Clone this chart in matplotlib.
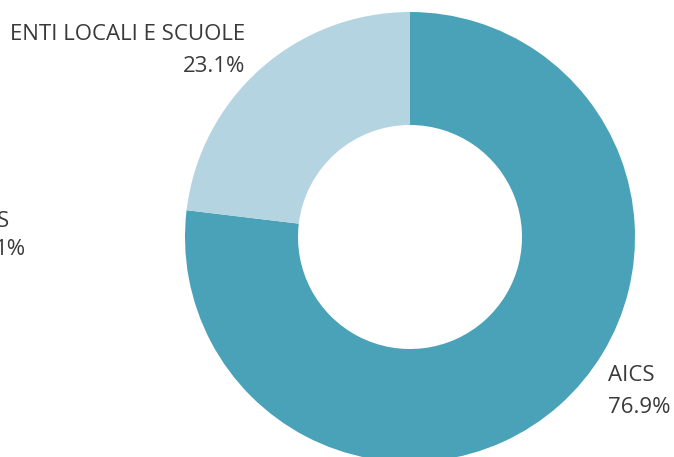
import matplotlib
matplotlib.use("Agg")
import matplotlib.pyplot as plt

categories = ["AICS", "ENTI LOCALI E SCUOLE"]
values = [76.9, 23.1]
colors = ["#4aa2b9", "#b4d4e1"]
pct_labels = ["76.9%", "23.1%"]
# partially visible (clipped) label at the left edge of the reference
clipped_lines = ["S", "1%"]

plt.rcParams['font.family'] = ['Open Sans', 'DejaVu Sans']

W, H = 674, 457
fig = plt.figure(figsize=(W / 100, H / 100), dpi=100)
ax = fig.add_axes([0, 0, 1, 1])
ax.set_xlim(0, W)
ax.set_ylim(0, H)
ax.set_aspect('equal')
ax.axis('off')

cx, cy = 410, H - 237
R = 225
ax.pie(values, colors=colors, startangle=90, counterclock=False,
       center=(cx, cy), radius=R, frame=True,
       wedgeprops=dict(width=R - 112, linewidth=0))
ax.set_xlim(0, W)
ax.set_ylim(0, H)
ax.axis('off')

txt_color = "#3a3a3a"
fs = 16
# AICS label (left aligned)
ax.text(608, H - 381, categories[0], fontsize=fs, color=txt_color, ha='left', va='baseline')
ax.text(608, H - 413, pct_labels[0], fontsize=fs, color=txt_color, ha='left', va='baseline')
# ENTI label (right aligned)
ax.text(245, H - 40, categories[1], fontsize=fs, color=txt_color, ha='right', va='baseline')
ax.text(245, H - 72, pct_labels[1], fontsize=fs, color=txt_color, ha='right', va='baseline')
# clipped label at the left edge
ax.text(9, H - 227, clipped_lines[0], fontsize=fs, color=txt_color, ha='right', va='baseline')
ax.text(26, H - 255, clipped_lines[1], fontsize=fs, color=txt_color, ha='right', va='baseline')

fig.savefig("out.png", dpi=100)
